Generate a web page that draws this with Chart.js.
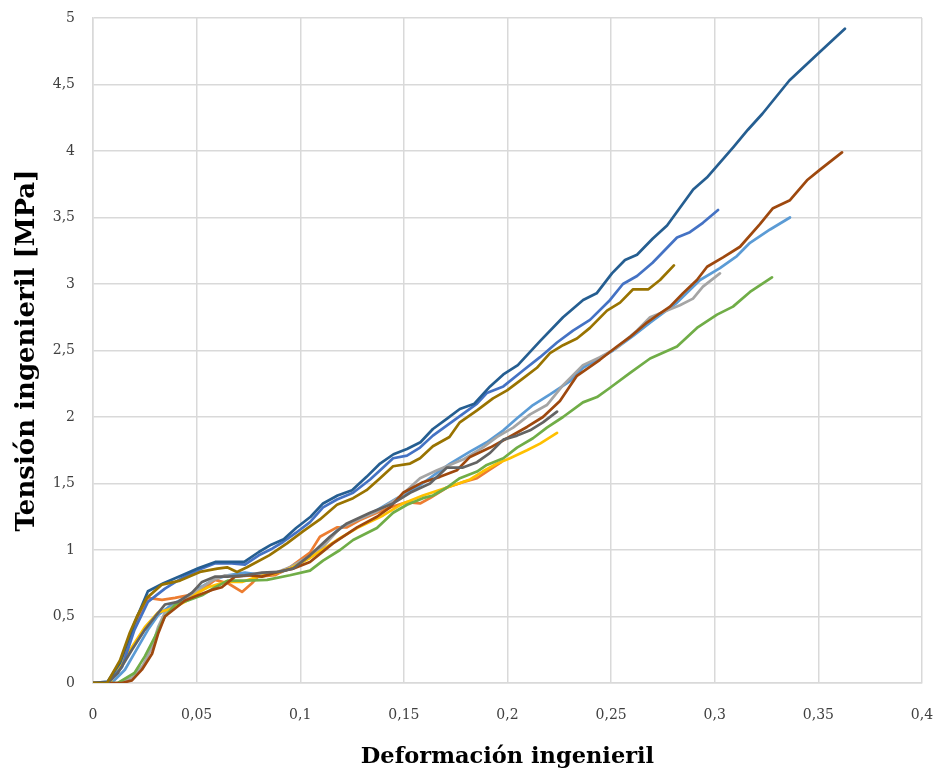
<!DOCTYPE html>
<html>
<head>
<meta charset="utf-8">
<script src="https://cdn.jsdelivr.net/npm/chart.js@4/dist/chart.umd.min.js"></script>
<style>
  html, body { margin: 0; padding: 0; background: #ffffff; }
  #wrap { width: 939px; height: 778px; }
</style>
</head>
<body>
<div id="wrap"><canvas id="c" width="939" height="778"></canvas></div>
<script>
// Curvas tensión-deformación ingenieril de diez probetas
const p1Strain = [0, 0.009, 0.0154, 0.0217, 0.0265, 0.0314, 0.038, 0.0444, 0.0507, 0.0574, 0.065, 0.0733, 0.083, 0.091, 0.098, 0.105, 0.112, 0.1192, 0.1274, 0.137, 0.1467, 0.1563, 0.166, 0.1723, 0.1819, 0.190, 0.198, 0.2046, 0.2123, 0.2205, 0.2302, 0.2364, 0.243, 0.251, 0.2606, 0.2688, 0.2818, 0.2929, 0.3025, 0.3107, 0.317, 0.3267, 0.3363];
const p1Stress = [0, 0, 0.10, 0.27, 0.40, 0.51, 0.59, 0.64, 0.71, 0.77, 0.81, 0.83, 0.81, 0.835, 0.88, 0.95, 1.06, 1.17, 1.225, 1.30, 1.39, 1.47, 1.58, 1.65, 1.74, 1.81, 1.90, 1.99, 2.09, 2.17, 2.27, 2.37, 2.43, 2.50, 2.61, 2.71, 2.86, 3.03, 3.12, 3.21, 3.31, 3.41, 3.50];

const p2Strain = [0, 0.007, 0.013, 0.020, 0.0265, 0.0333, 0.0396, 0.0458, 0.0526, 0.0589, 0.0651, 0.0719, 0.0767, 0.0796, 0.0878, 0.095, 0.1047, 0.1095, 0.1177, 0.1225, 0.1288, 0.137, 0.1433, 0.1515, 0.1578, 0.1626, 0.1708, 0.1785, 0.1853, 0.190, 0.197];
const p2Stress = [0, 0, 0.12, 0.42, 0.64, 0.625, 0.64, 0.66, 0.70, 0.775, 0.75, 0.685, 0.75, 0.80, 0.81, 0.87, 0.98, 1.10, 1.17, 1.17, 1.225, 1.28, 1.32, 1.36, 1.35, 1.39, 1.47, 1.51, 1.54, 1.59, 1.66];

const p3Strain = [0, 0.012, 0.0188, 0.024, 0.0285, 0.0314, 0.0347, 0.0396, 0.0458, 0.0526, 0.0574, 0.0637, 0.070, 0.0767, 0.0864, 0.095, 0.103, 0.1095, 0.1192, 0.1274, 0.137, 0.148, 0.1578, 0.166, 0.1785, 0.188, 0.195, 0.2027, 0.2109, 0.219, 0.2268, 0.2364, 0.2446, 0.2528, 0.2625, 0.2688, 0.277, 0.2832, 0.2895, 0.2943, 0.3025];
const p3Stress = [0, 0, 0.04, 0.13, 0.27, 0.42, 0.53, 0.59, 0.64, 0.72, 0.77, 0.81, 0.80, 0.81, 0.82, 0.87, 0.94, 1.0, 1.165, 1.225, 1.29, 1.40, 1.54, 1.60, 1.68, 1.77, 1.85, 1.92, 2.02, 2.09, 2.24, 2.39, 2.45, 2.52, 2.65, 2.75, 2.80, 2.84, 2.89, 2.98, 3.08];

const p4Strain = [0, 0.008, 0.0116, 0.0188, 0.025, 0.0314, 0.038, 0.0444, 0.0507, 0.0555, 0.0637, 0.0719, 0.0796, 0.087, 0.095, 0.1047, 0.1177, 0.1274, 0.140, 0.1496, 0.1592, 0.1708, 0.1819, 0.188, 0.195, 0.2012, 0.2094, 0.2157, 0.2239];
const p4Stress = [0, 0, 0.10, 0.27, 0.42, 0.53, 0.56, 0.61, 0.68, 0.72, 0.76, 0.76, 0.80, 0.82, 0.86, 0.94, 1.075, 1.165, 1.26, 1.35, 1.41, 1.47, 1.53, 1.59, 1.65, 1.69, 1.75, 1.80, 1.88];

const p5Strain = [0, 0.007, 0.014, 0.020, 0.0265, 0.0347, 0.043, 0.0507, 0.059, 0.067, 0.0733, 0.080, 0.0864, 0.0917, 0.098, 0.1047, 0.111, 0.1177, 0.1255, 0.1337, 0.140, 0.1448, 0.1515, 0.1578, 0.164, 0.172, 0.180, 0.1853, 0.190, 0.198, 0.2075, 0.2157, 0.2239, 0.2316, 0.2398, 0.2495, 0.2557, 0.2625, 0.270, 0.2818, 0.288, 0.2943, 0.3016];
const p5Stress = [0, 0, 0.12, 0.40, 0.61, 0.71, 0.79, 0.85, 0.90, 0.90, 0.89, 0.96, 1.01, 1.06, 1.13, 1.21, 1.32, 1.38, 1.43, 1.53, 1.62, 1.69, 1.71, 1.77, 1.86, 1.95, 2.04, 2.10, 2.18, 2.23, 2.35, 2.45, 2.56, 2.65, 2.73, 2.88, 3.0, 3.06, 3.16, 3.35, 3.39, 3.46, 3.556];

const p6Strain = [0, 0.012, 0.020, 0.025, 0.030, 0.0347, 0.0396, 0.0458, 0.0526, 0.059, 0.065, 0.0733, 0.084, 0.095, 0.1047, 0.111, 0.1192, 0.1255, 0.137, 0.1448, 0.1515, 0.1592, 0.164, 0.1708, 0.177, 0.1853, 0.190, 0.198, 0.2046, 0.2123, 0.219, 0.2268, 0.2364, 0.2432, 0.2495, 0.259, 0.2688, 0.2818, 0.2914, 0.3011, 0.3088, 0.317, 0.3276];
const p6Stress = [0, 0, 0.075, 0.20, 0.35, 0.50, 0.59, 0.62, 0.66, 0.72, 0.77, 0.77, 0.775, 0.81, 0.845, 0.92, 1.0, 1.075, 1.165, 1.28, 1.34, 1.39, 1.41, 1.47, 1.54, 1.59, 1.64, 1.69, 1.77, 1.84, 1.92, 2.0, 2.11, 2.15, 2.22, 2.33, 2.44, 2.53, 2.67, 2.77, 2.83, 2.94, 3.05];

const p7Strain = [0, 0.007, 0.013, 0.020, 0.0265, 0.034, 0.043, 0.051, 0.059, 0.067, 0.073, 0.080, 0.086, 0.092, 0.098, 0.105, 0.111, 0.118, 0.125, 0.132, 0.1385, 0.145, 0.1515, 0.158, 0.164, 0.171, 0.177, 0.184, 0.1916, 0.198, 0.205, 0.2157, 0.2268, 0.2365, 0.243, 0.2504, 0.2567, 0.2625, 0.270, 0.277, 0.2896, 0.2962, 0.309, 0.316, 0.323, 0.336, 0.349, 0.3628];
const p7Stress = [0, 0.01, 0.15, 0.45, 0.69, 0.75, 0.81, 0.865, 0.91, 0.91, 0.91, 0.985, 1.04, 1.08, 1.165, 1.25, 1.35, 1.41, 1.45, 1.55, 1.65, 1.72, 1.76, 1.81, 1.91, 1.99, 2.06, 2.10, 2.23, 2.32, 2.39, 2.57, 2.75, 2.88, 2.93, 3.08, 3.18, 3.22, 3.34, 3.44, 3.71, 3.80, 4.03, 4.16, 4.28, 4.53, 4.72, 4.92];

const p8Strain = [0, 0.014, 0.0188, 0.0236, 0.0285, 0.0314, 0.0347, 0.0396, 0.0444, 0.0507, 0.0574, 0.0622, 0.0685, 0.0748, 0.0815, 0.0893, 0.0965, 0.1047, 0.1158, 0.1274, 0.137, 0.1433, 0.1496, 0.1592, 0.1674, 0.1756, 0.1819, 0.1916, 0.1998, 0.2094, 0.2171, 0.2253, 0.2335, 0.2446, 0.2528, 0.259, 0.2673, 0.2736, 0.2784, 0.2847, 0.2914, 0.2963, 0.304, 0.3122, 0.3218, 0.3281, 0.3363, 0.3445, 0.3508, 0.3614];
const p8Stress = [0, 0, 0.02, 0.10, 0.22, 0.37, 0.50, 0.56, 0.62, 0.66, 0.70, 0.72, 0.80, 0.81, 0.80, 0.835, 0.86, 0.91, 1.05, 1.17, 1.25, 1.32, 1.43, 1.51, 1.55, 1.60, 1.70, 1.77, 1.84, 1.925, 2.0, 2.12, 2.31, 2.43, 2.53, 2.60, 2.71, 2.78, 2.83, 2.93, 3.03, 3.13, 3.20, 3.28, 3.45, 3.57, 3.63, 3.78, 3.86, 3.99];

const p9Strain = [0, 0.007, 0.012, 0.0188, 0.025, 0.030, 0.0347, 0.041, 0.0478, 0.0526, 0.059, 0.065, 0.0733, 0.0815, 0.0893, 0.0965, 0.1047, 0.1143, 0.1225, 0.1337, 0.1448, 0.153, 0.1626, 0.1708, 0.1785, 0.1853, 0.1916, 0.198, 0.2046, 0.2109, 0.2171, 0.2239];
const p9Stress = [0, 0, 0.075, 0.25, 0.40, 0.50, 0.59, 0.61, 0.68, 0.76, 0.80, 0.80, 0.81, 0.83, 0.835, 0.86, 0.96, 1.10, 1.20, 1.28, 1.35, 1.43, 1.50, 1.62, 1.62, 1.66, 1.73, 1.83, 1.86, 1.90, 1.96, 2.04];

const p10Strain = [0, 0.0068, 0.013, 0.0178, 0.0212, 0.026, 0.0333, 0.042, 0.0516, 0.060, 0.0647, 0.0695, 0.0743, 0.085, 0.0936, 0.1013, 0.1095, 0.1177, 0.1255, 0.132, 0.1385, 0.1448, 0.153, 0.1578, 0.164, 0.172, 0.177, 0.1853, 0.193, 0.1998, 0.2075, 0.2142, 0.2205, 0.2268, 0.2335, 0.2398, 0.248, 0.2543, 0.2606, 0.268, 0.2736, 0.2803];
const p10Stress = [0, 0, 0.17, 0.38, 0.50, 0.64, 0.74, 0.77, 0.835, 0.86, 0.87, 0.835, 0.87, 0.96, 1.05, 1.14, 1.23, 1.34, 1.39, 1.45, 1.54, 1.63, 1.65, 1.69, 1.78, 1.85, 1.96, 2.05, 2.14, 2.20, 2.29, 2.37, 2.48, 2.54, 2.59, 2.67, 2.80, 2.86, 2.96, 2.96, 3.03, 3.14];

const xTicks = [0, 0.05, 0.1, 0.15, 0.2, 0.25, 0.3, 0.35, 0.4];
const yTicks = [0, 0.5, 1, 1.5, 2, 2.5, 3, 3.5, 4, 4.5, 5];

const series = [
  { label: 'Probeta 1', x: p1Strain, y: p1Stress, color: '#5B9BD5' },
  { label: 'Probeta 2', x: p2Strain, y: p2Stress, color: '#ED7D31' },
  { label: 'Probeta 3', x: p3Strain, y: p3Stress, color: '#A5A5A5' },
  { label: 'Probeta 4', x: p4Strain, y: p4Stress, color: '#FFC000' },
  { label: 'Probeta 5', x: p5Strain, y: p5Stress, color: '#4472C4' },
  { label: 'Probeta 6', x: p6Strain, y: p6Stress, color: '#70AD47' },
  { label: 'Probeta 7', x: p7Strain, y: p7Stress, color: '#255E91' },
  { label: 'Probeta 8', x: p8Strain, y: p8Stress, color: '#9E480E' },
  { label: 'Probeta 9', x: p9Strain, y: p9Stress, color: '#636363' },
  { label: 'Probeta 10', x: p10Strain, y: p10Stress, color: '#997300' }
];

const datasets = series.map((s, i) => ({
  label: s.label,
  data: s.x.map((v, k) => ({ x: v, y: s.y[k] })),
  borderColor: s.color,
  backgroundColor: s.color,
  borderWidth: 2.7,
  pointRadius: 0,
  showLine: true,
  tension: 0,
  borderJoinStyle: 'round',
  borderCapStyle: 'round',
  order: series.length - i
}));

const fmt = v => String(Number(v.toFixed(2))).replace('.', ',');
const serif = "'DejaVu Serif', 'Liberation Serif', serif";
const tickFont = { family: serif, size: 14 };
const gridColor = '#d9d9d9';

new Chart(document.getElementById('c'), {
  type: 'scatter',
  data: { datasets },
  options: {
    responsive: false,
    animation: false,
    devicePixelRatio: 1,
    layout: { padding: { top: 18, right: 17, bottom: 0, left: 0 } },
    plugins: { legend: { display: false }, tooltip: { enabled: false } },
    scales: {
      x: {
        type: 'linear',
        min: xTicks[0],
        max: xTicks[xTicks.length - 1],
        afterBuildTicks: sc => { sc.ticks = xTicks.map(v => ({ value: v })); },
        afterFit: sc => { sc.height = 95; },
        ticks: { callback: v => fmt(v), font: tickFont, color: '#404040', padding: 2, maxRotation: 0 },
        grid: { color: gridColor, lineWidth: 1.5, drawTicks: true, tickLength: 22, tickColor: 'rgba(0,0,0,0)' },
        border: { color: gridColor, width: 1.5 },
        title: { display: true, text: 'Deformación ingenieril', font: { family: serif, size: 22.5, weight: 'bold' }, color: '#000000', padding: { bottom: 7 } }
      },
      y: {
        type: 'linear',
        min: yTicks[0],
        max: yTicks[yTicks.length - 1],
        afterBuildTicks: sc => { sc.ticks = yTicks.map(v => ({ value: v })); },
        afterFit: sc => { sc.width = 93; },
        ticks: { callback: v => fmt(v), font: tickFont, color: '#404040', padding: 2 },
        grid: { color: gridColor, lineWidth: 1.5, drawTicks: true, tickLength: 16, tickColor: 'rgba(0,0,0,0)' },
        border: { color: gridColor, width: 1.5 },
        title: { display: true, text: 'Tensión ingenieril [MPa]', font: { family: serif, size: 26, weight: 'bold' }, color: '#000000', padding: { top: 12 } }
      }
    }
  }
});
</script>
</body>
</html>
